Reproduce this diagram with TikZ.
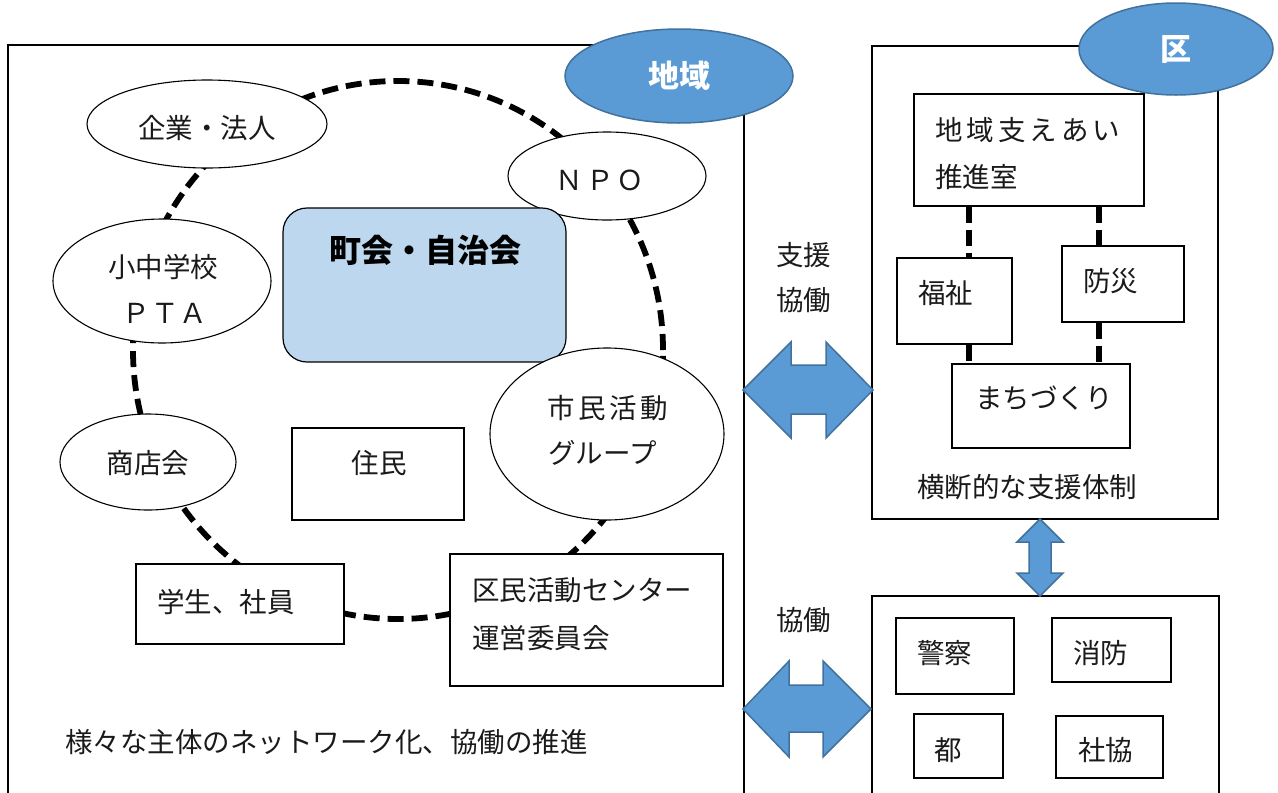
\documentclass[tikz,border=0pt]{standalone}
\usepackage{fontspec}
\setmainfont{Noto Sans CJK JP}
\usetikzlibrary{shapes.geometric}
\definecolor{ablue}{HTML}{5B9BD5}
\definecolor{abluedk}{HTML}{41719C}
\definecolor{lblue}{HTML}{BDD7EE}
\definecolor{ink}{HTML}{1A1A1A}
\begin{document}
\begin{tikzpicture}[x=1pt,y=-1pt,
  txt/.style={inner sep=0pt, text=ink, font=\fontsize{27.5}{30}\selectfont},
  wtxt/.style={txt, anchor=west},
  box/.style={draw=black, line width=1.2pt, fill=white, rectangle, inner sep=0pt},
  oval/.style={draw=black, line width=1.1pt, fill=white, ellipse, inner sep=0pt},
  badge/.style={draw=abluedk, line width=1.5pt, fill=ablue, ellipse, inner sep=0pt,
    text=white, font=\fontsize{31}{32}\selectfont\bfseries},
  ring/.style={line width=5.8pt, dash pattern=on 16pt off 8pt},
  dlink/.style={line width=6pt, dash pattern=on 16pt off 7pt},
  bigarrow/.style={draw=abluedk, line width=1.5pt, fill=ablue, line join=miter},
  frame/.style={draw=black, line width=2.4pt}
]
\useasboundingbox (0,0) rectangle (1278,793);
\clip (0,0) rectangle (1278,793);

% outer frames
\draw[frame] (8,820) -- (8,45) -- (744,45) -- (744,820);
\node[box, line width=1.3pt, minimum width=346pt, minimum height=473pt] (kubox) at (1045,282.5) {};
\node[box, line width=2.4pt, minimum width=347pt, minimum height=240pt, fill=none] (kanbox) at (1045.5,716) {};

% dashed network ring
\draw[ring] (398,350) ellipse [x radius=265pt, y radius=269pt];

% left side nodes
\node[oval, minimum width=240pt, minimum height=88pt] (kigyo) at (207,124) {};
\node[txt] (kigyoT) at (207,128) {企業・法人};
\node[oval, minimum width=198pt, minimum height=88pt] (npo) at (607,176) {};
\node[txt] (npoT) at (600,180) {Ｎ\kern3pt Ｐ\kern3pt Ｏ};
\node[oval, minimum width=218pt, minimum height=124pt] (pta) at (162,281) {};
\node[txt] (ptaT1) at (163,267) {小中学校};
\node[txt] (ptaT2) at (165,313) {Ｐ\kern1pt Ｔ\kern1pt Ａ};
\node[oval, minimum width=176pt, minimum height=96pt] (shoten) at (148,462) {};
\node[txt] (shotenT) at (148,463) {商店会};

\node[draw=black, line width=1.2pt, fill=lblue, rounded corners=24pt,
      minimum width=283pt, minimum height=154pt, inner sep=0pt] (chokai) at (424.5,285) {};
\node[txt, font=\fontsize{32}{34}\selectfont\bfseries, text=black] (chokaiT) at (425,250) {町会・自治会};

\node[oval, minimum width=234pt, minimum height=172pt] (shimin) at (607,434) {};
\node[wtxt] (shiminT1) at (547,408) {市\kern3.5pt 民\kern3.5pt 活\kern3.5pt 動};
\node[wtxt] (shiminT2) at (548,453) {グループ};

\node[box, minimum width=172pt, minimum height=92pt] (jumin) at (378,474) {};
\node[txt] (juminT) at (379,463) {住民};
\node[box, minimum width=208pt, minimum height=80pt] (gakusei) at (240,604) {};
\node[wtxt] (gakuseiT) at (157,602) {学生、社員};
\node[box, minimum width=273pt, minimum height=132pt] (kumin) at (586.5,620) {};
\node[wtxt] (kuminT1) at (472,590) {区民活動センター};
\node[wtxt] (kuminT2) at (472,638) {運営委員会};
\node[wtxt] (netT) at (65,742) {様々な主体のネットワーク化、協働の推進};

% badges
\node[badge, minimum width=228pt, minimum height=94pt] (chiiki) at (679,76) {地域};
\node[badge, minimum width=194pt, minimum height=92pt] (ku) at (1176,49) {区};

% middle labels
\node[wtxt] (shienT) at (776,255) {支援};
\node[wtxt] (kyodoT1) at (776,300) {協働};
\node[wtxt] (kyodoT2) at (776,620) {協働};

% right: ward support
\node[box, minimum width=230pt, minimum height=112pt] (suishin) at (1029,150) {};
\node[wtxt] (suishinT1) at (935,130) {地\kern4pt 域\kern4pt 支\kern4pt え\kern4pt あ\kern4pt い};
\node[wtxt] (suishinT2) at (935,177) {推進室};
\node[box, minimum width=115pt, minimum height=86pt] (fukushi) at (954.5,301) {};
\node[wtxt] (fukushiT) at (918,293) {福祉};
\node[box, minimum width=122pt, minimum height=76pt] (bosai) at (1123,284) {};
\node[wtxt] (bosaiT) at (1083,281) {防災};
\node[box, minimum width=178pt, minimum height=84pt] (machi) at (1041,406) {};
\node[wtxt] (machiT) at (975,398) {まちづくり};
\node[wtxt] (odanT) at (917,487) {横断的な支援体制};

\path (suishin.south west) ++(56,0) coordinate (s1);
\path (suishin.south west) ++(186,0) coordinate (s2);
\draw[dlink] (s1) -- (s1 |- fukushi.north);
\draw[dlink] (s2) -- (s2 |- bosai.north);
\draw[dlink] (s1 |- fukushi.south) -- (s1 |- machi.north);
\draw[dlink] (s2 |- bosai.south) -- (s2 |- machi.north);

% right: agencies
\node[box, minimum width=118pt, minimum height=76pt] (keisatsu) at (955,656) {};
\node[wtxt] (keisatsuT) at (917,653) {警察};
\node[box, minimum width=119pt, minimum height=64pt] (shobo) at (1111.5,650) {};
\node[wtxt] (shoboT) at (1073,653) {消防};
\node[box, minimum width=89pt, minimum height=64pt] (to) at (958.5,746) {};
\node[wtxt] (toT) at (934,750) {都};
\node[box, minimum width=107pt, minimum height=62pt] (shakyo) at (1109.5,747) {};
\node[wtxt] (shakyoT) at (1078,750) {社協};

% big arrows
\draw[bigarrow] (743,390) -- (791,342) -- (791,365) -- (826,365) -- (826,342) -- (873,390)
  -- (826,438) -- (826,414) -- (791,414) -- (791,438) -- cycle;
\draw[bigarrow] (743,709) -- (789,661) -- (789,685) -- (823,685) -- (823,661) -- (871,709)
  -- (823,757) -- (823,732) -- (789,732) -- (789,757) -- cycle;
\draw[bigarrow] (1040,519) -- (1063,542) -- (1051,542) -- (1051,573) -- (1063,573) -- (1040,596)
  -- (1017,573) -- (1029,573) -- (1029,542) -- (1017,542) -- cycle;
\end{tikzpicture}
\end{document}
